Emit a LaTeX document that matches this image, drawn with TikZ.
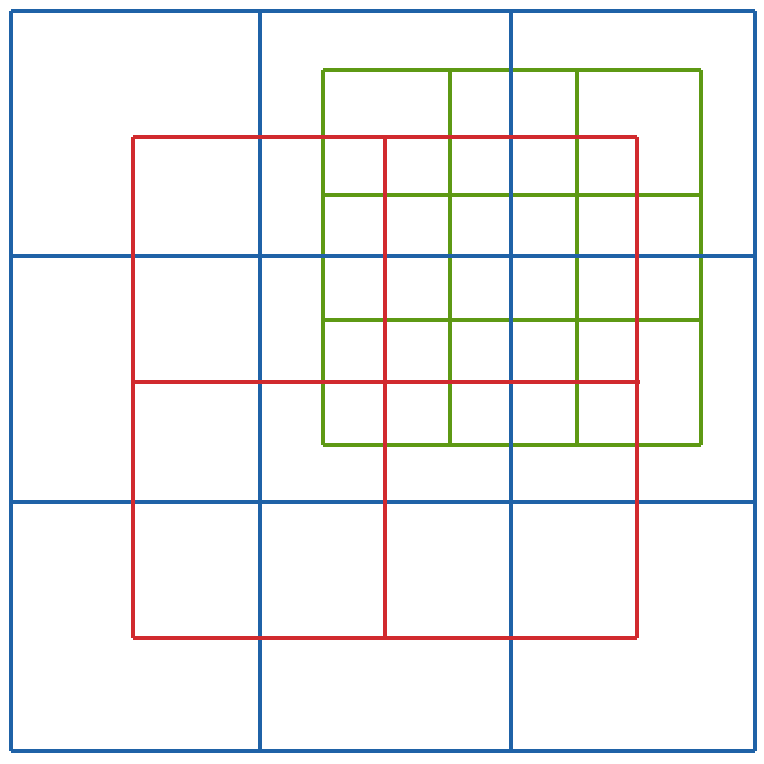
\documentclass[tikz,border=0pt]{standalone}
\definecolor{cblue}{HTML}{1F62A7}
\definecolor{cred}{HTML}{D12A2E}
\definecolor{cgreen}{HTML}{5E9914}
\tikzset{
  every picture/.style={line width=1pt, line join=miter},
  gridline/.style={draw=#1, line width=1pt},
  gridline/.default=cblue,
}

\begin{document}
\begin{tikzpicture}[x=0.01cm, y=-0.01cm]
  \useasboundingbox (0,0) rectangle (764,763);
  % fine grid
  \foreach \xx in {323,450,577,701} \draw[gridline=cgreen] (\xx,70) -- (\xx,445);
  \foreach \yy in {70,195,320,445} \draw[gridline=cgreen] (323,\yy) -- (701,\yy);
  % coarse grid
  \foreach \xx in {11,260,511,755} \draw[gridline=cblue] (\xx,11) -- (\xx,751);
  \foreach \yy in {11,256,502,751} \draw[gridline=cblue] (11,\yy) -- (755,\yy);
  % middle grid
  \foreach \xx in {133,385,637} \draw[gridline=cred] (\xx,137) -- (\xx,638);
  \draw[gridline=cred] (133,137) -- (637,137);
  \draw[gridline=cred] (133,382) -- (640,382);
  \draw[gridline=cred] (133,638) -- (637,638);
\end{tikzpicture}
\end{document}
